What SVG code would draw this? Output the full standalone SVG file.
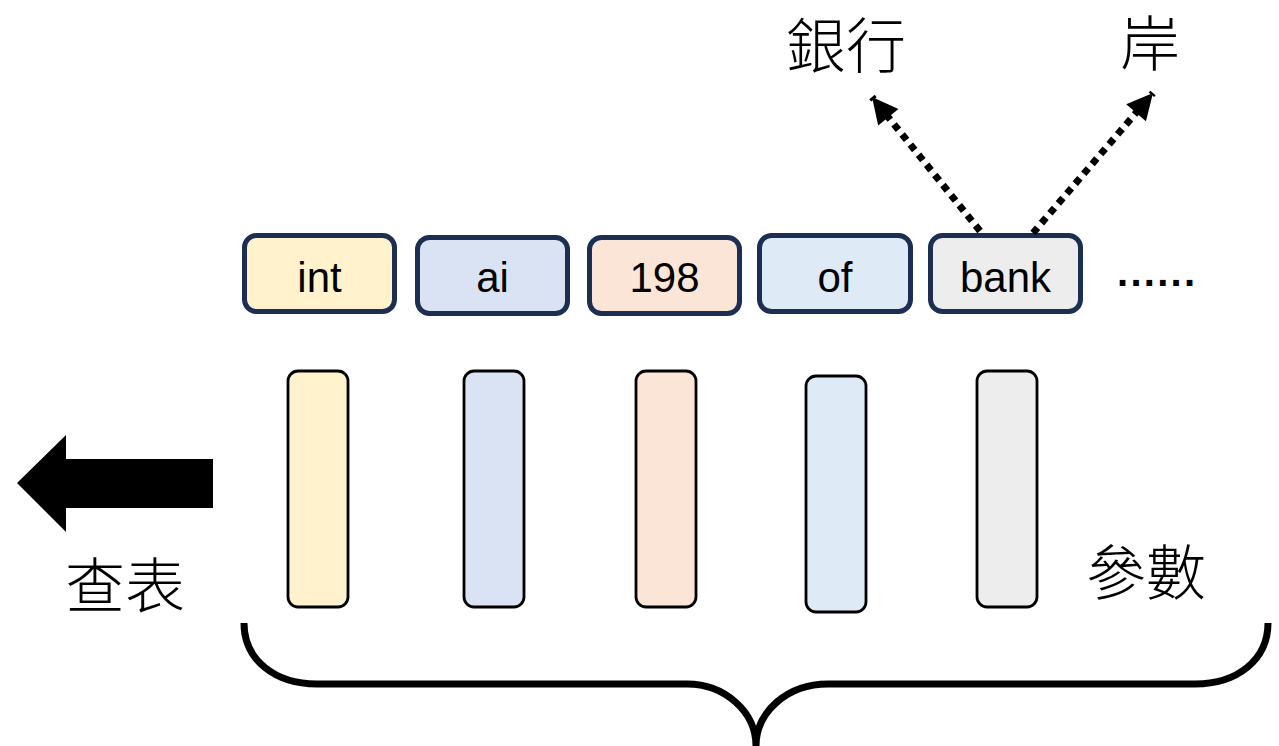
<svg xmlns="http://www.w3.org/2000/svg" width="1279" height="746" viewBox="0 0 1279 746">
  <style>
    .tok { stroke: #1c2f52; stroke-width: 5; }
    .bar { stroke: #000; stroke-width: 2.8; }
    .lbl { font-family: "Liberation Sans", Arial, sans-serif; font-size: 42px; fill: #000; text-anchor: middle; }
    .cjk { font-family: "Noto Sans CJK TC", "Noto Sans CJK SC", sans-serif; font-size: 60px; font-weight: 300; fill: #000; }
    .dot { fill: none; stroke: #000; stroke-width: 7; stroke-dasharray: 7 6; }
    .yellow { fill: #fff2cc; }
    .blue { fill: #dae3f3; }
    .peach { fill: #fbe5d6; }
    .lblue { fill: #deebf7; }
    .grey { fill: #ededed; }
  </style>
  <defs>
    <marker id="head" viewBox="0 0 10 10" refX="10" refY="5" markerWidth="28" markerHeight="26" markerUnits="userSpaceOnUse" orient="auto">
      <path d="M0,0 L10,5 L0,10 Z" fill="#000"/>
    </marker>
  </defs>

  <rect width="1279" height="746" fill="#fff"/>

  <!-- token row -->
  <g id="tok-int"><rect class="tok yellow" x="244.5" y="235.5" width="150" height="76" rx="12"/><text class="lbl" x="319.5" y="292">int</text></g>
  <g id="tok-ai"><rect class="tok blue" x="417.5" y="237.5" width="150" height="76" rx="12"/><text class="lbl" x="492.5" y="292">ai</text></g>
  <g id="tok-198"><rect class="tok peach" x="589.5" y="237.5" width="150" height="76" rx="12"/><text class="lbl" x="664.5" y="292">198</text></g>
  <g id="tok-of"><rect class="tok lblue" x="759.5" y="235.5" width="151" height="76" rx="12"/><text class="lbl" x="835" y="292">of</text></g>
  <g id="tok-bank"><rect class="tok grey" x="930.5" y="235.5" width="150" height="76" rx="12"/><text class="lbl" x="1005.5" y="292">bank</text></g>
  <g id="ellipsis"><text x="1117" y="286" textLength="78" lengthAdjust="spacing" style="font-family:'Liberation Sans',Arial,sans-serif;font-size:40px;font-weight:bold;fill:#000">......</text></g>

  <!-- embedding columns -->
  <g id="vec-int"><rect class="bar yellow" x="288" y="371" width="60" height="236" rx="10"/></g>
  <g id="vec-ai"><rect class="bar blue" x="464" y="371" width="60" height="236" rx="10"/></g>
  <g id="vec-198"><rect class="bar peach" x="636" y="371" width="60" height="236" rx="10"/></g>
  <g id="vec-of"><rect class="bar lblue" x="806" y="376" width="60" height="236" rx="10"/></g>
  <g id="vec-bank"><rect class="bar grey" x="977" y="371" width="60" height="236" rx="10"/></g>

  <!-- sense labels -->
  <g id="sense-bank"><text class="cjk" x="786" y="68">銀行</text></g>
  <g id="sense-shore"><text class="cjk" x="1120" y="66">岸</text></g>

  <!-- lookup arrow and labels -->
  <g id="lookup">
    <path d="M17,483 L66,435 L66,459 L213,459 L213,508 L66,508 L66,532 Z" fill="#000"/>
    <text class="cjk" x="65" y="608">查表</text>
  </g>
  <g id="params"><text class="cjk" x="1086" y="595">參數</text></g>

  <!-- brace under the columns -->
  <g id="brace">
    <path d="M244,623 C244,660 275,684 317,684 L687,684 C725,684 756,712 756,746 C756,712 787,684 828,684 L1195,684 C1237,684 1268,660 1268,623" fill="none" stroke="#000" stroke-width="7"/>
  </g>

  <!-- connectors -->
  <g id="connectors">
    <line class="dot" x1="980" y1="231" x2="872" y2="97" marker-end="url(#head)"/>
    <line class="dot" x1="1033" y1="233" x2="1153" y2="93" marker-end="url(#head)"/>
  </g>
</svg>
